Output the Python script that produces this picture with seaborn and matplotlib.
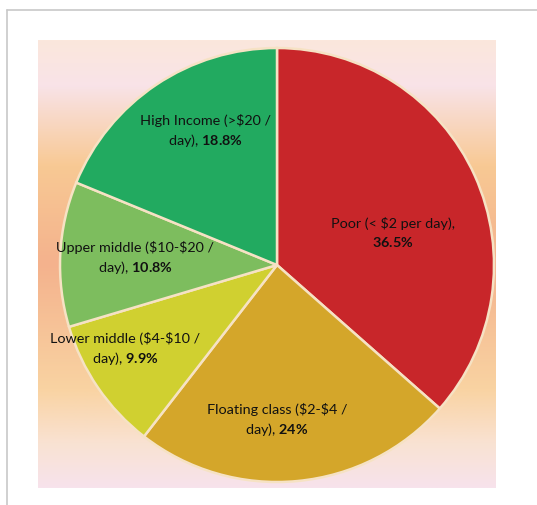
import numpy as np
import matplotlib
matplotlib.use("Agg")
import matplotlib.pyplot as plt
import seaborn as sns
from matplotlib.colors import LinearSegmentedColormap
from matplotlib.lines import Line2D

# data
labels = ["Poor (< $2 per day),", "Floating class ($2-$4 /", "Lower middle ($4-$10 /",
          "Upper middle ($10-$20 /", "High Income (>$20 /"]
second = ["", "day), ", "day), ", "day), ", "day), "]
shares = [36.5, 24.0, 9.9, 10.8, 18.8]
pct_text = ["36.5%", "24%", "9.9%", "10.8%", "18.8%"]
colors = ["#c8262a", "#d4a62a", "#d0d030", "#7dbd5e", "#22aa60"]
# radial position of each label (fraction of radius) and small angle tweak
label_r = [0.556, 0.71, 0.80, 0.655, 0.70]
label_dang = [-8.4, -5.4, -5.6, -0.3, -5.9]

sns.set_theme(style="white")
plt.rcParams["font.family"] = ["Lato", "DejaVu Sans"]
plt.rcParams["mathtext.fontset"] = "custom"
plt.rcParams["mathtext.rm"] = "Lato"
plt.rcParams["mathtext.bf"] = "Lato:bold"

W, H = 537, 506
fig = plt.figure(figsize=(W / 100, H / 100), dpi=100)
fig.patch.set_facecolor("white")

# frame lines
fig.add_artist(Line2D([7 / W, 1], [1 - 11 / H, 1 - 11 / H], color="#c8c8c8", lw=1.2))
fig.add_artist(Line2D([7 / W, 7 / W], [0, 1 - 11 / H], color="#c8c8c8", lw=1.2))

# gradient background
bg = fig.add_axes([38 / W, 1 - 489 / H, 458 / W, 448 / H])
grad_cmap = LinearSegmentedColormap.from_list("bg", [
    (0.0, "#fbe7dc"), (0.1, "#f9e3e8"), (0.28, "#f8c994"), (0.5, "#f4b28d"),
    (0.78, "#f9d3a2"), (0.9, "#f9e2d2"), (1.0, "#f7e3ec")])
bg.imshow(np.linspace(0, 1, 256).reshape(-1, 1), aspect="auto", cmap=grad_cmap,
          extent=[0, 1, 1, 0])
bg.set_axis_off()

# pie
R = 217
cx, cy = 277, 266
ax = fig.add_axes([(cx - R) / W, (H - cy - R) / H, 2 * R / W, 2 * R / H])
wedges, _ = ax.pie(shares, colors=colors, startangle=90, counterclock=False,
                   radius=1, wedgeprops=dict(edgecolor="#f6e2c4", linewidth=1.8))
ax.set_xlim(-1, 1)
ax.set_ylim(-1, 1)
ax.set_axis_off()

for w, lab, sec, pct, r, da in zip(wedges, labels, second, pct_text, label_r, label_dang):
    ang = np.deg2rad((w.theta1 + w.theta2) / 2 + da)
    x, y = r * np.cos(ang), r * np.sin(ang)
    txt = (lab.replace("$", r"\$") + "\n" + sec
           + r"$\mathbf{" + pct.replace("%", r"\%") + "}$")
    ax.text(x, y, txt, ha="center", va="center", fontsize=10.4, color="#111111",
            linespacing=1.38)

fig.savefig("out.png", dpi=100)
